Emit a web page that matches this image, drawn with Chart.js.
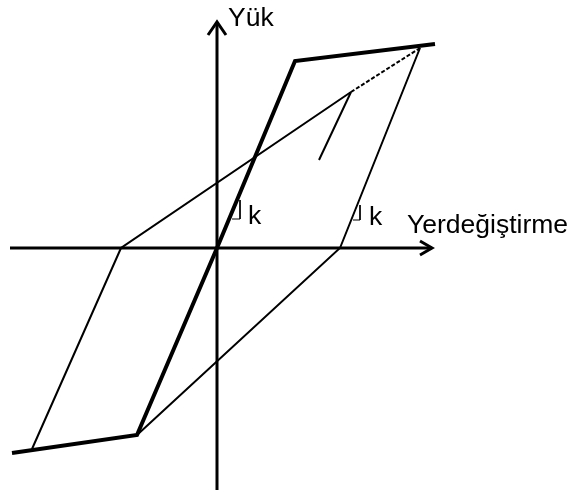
<!DOCTYPE html>
<html>
<head>
<meta charset="utf-8">
<script src="https://cdn.jsdelivr.net/npm/chart.js@4"></script>
<style>
  html, body { margin: 0; padding: 0; background: #fff; }
  #wrap { width: 572px; height: 490px; }
</style>
</head>
<body>
<div id="wrap"><canvas id="hystChart"></canvas></div>
<script>
// backbone (envelope) curve
const backboneX = [-205, -80, 0, 78, 218];
const backboneY = [-205, -187, 0, 187, 204];
// unloading from positive peak, reloading towards negative yield point
const loop1X = [203, 123, -80];
const loop1Y = [200, 0, -187];
// unloading from negative side, reloading towards positive peak
const loop2X = [-185, -96, 134];
const loop2Y = [-201, 0, 156];
// dashed continuation to the previous peak
const dashX = [134, 203];
const dashY = [156, 200];
// partial unloading branch
const innerX = [134, 102];
const innerY = [156, 88];
// slope markers
const mark1X = [23, 23, 15];
const mark1Y = [48, 29, 29];
const mark2X = [143, 143, 136];
const mark2Y = [43, 28, 28];
// axes extent
const xAxisX = [-207, 215];
const vAxisY = [-242, 226];

function pts(xs, ys) { return xs.map((x, i) => ({ x: x, y: ys[i] })); }

function line(xs, ys, width, dash) {
    return {
        data: pts(xs, ys),
        showLine: true,
        borderColor: '#000',
        borderWidth: width,
        borderDash: dash || [],
        pointRadius: 0,
        fill: false,
        tension: 0
    };
}

const annotations = {
    id: 'annotations',
    afterDatasetsDraw(chart) {
        const c = chart.ctx;
        const sx = chart.scales.x, sy = chart.scales.y;
        const px = v => sx.getPixelForValue(v);
        const py = v => sy.getPixelForValue(v);
        c.save();
        c.strokeStyle = '#000';
        c.lineWidth = 3;
        c.lineCap = 'butt';
        c.lineJoin = 'miter';
        // arrow on vertical axis
        const tx = px(0), ty = py(vAxisY[1]);
        c.beginPath();
        c.moveTo(tx - 9, ty + 13);
        c.lineTo(tx, ty);
        c.lineTo(tx + 9, ty + 13);
        c.stroke();
        // arrow on horizontal axis
        const hx = px(xAxisX[1]), hy = py(0);
        c.beginPath();
        c.moveTo(hx - 12, hy - 7);
        c.lineTo(hx, hy);
        c.lineTo(hx - 12, hy + 7);
        c.stroke();
        // labels
        c.fillStyle = '#000';
        c.font = '26.5px "Liberation Sans", Arial, sans-serif';
        c.textBaseline = 'alphabetic';
        c.textAlign = 'left';
        c.fillText('Yük', px(11), py(222));
        c.fillText('Yerdeğiştirme', px(190), py(15));
        c.fillText('k', px(31), py(24));
        c.fillText('k', px(152), py(23));
        c.restore();
    }
};

new Chart(document.getElementById('hystChart').getContext('2d'), {
    type: 'scatter',
    data: {
        datasets: [
            line(xAxisX, [0, 0], 3),
            line([0, 0], vAxisY, 3),
            line(loop1X, loop1Y, 2),
            line(loop2X, loop2Y, 2),
            line(dashX, dashY, 2, [4, 2]),
            line(innerX, innerY, 2),
            line(mark1X, mark1Y, 1),
            line(mark2X, mark2Y, 1),
            line(backboneX, backboneY, 4)
        ]
    },
    options: {
        responsive: true,
        maintainAspectRatio: false,
        animation: false,
        layout: { padding: 0 },
        plugins: { legend: { display: false }, tooltip: { enabled: false } },
        scales: {
            x: { type: 'linear', min: -217, max: 355, display: false },
            y: { type: 'linear', min: -242, max: 248, display: false }
        }
    },
    plugins: [annotations]
});
</script>
</body>
</html>
